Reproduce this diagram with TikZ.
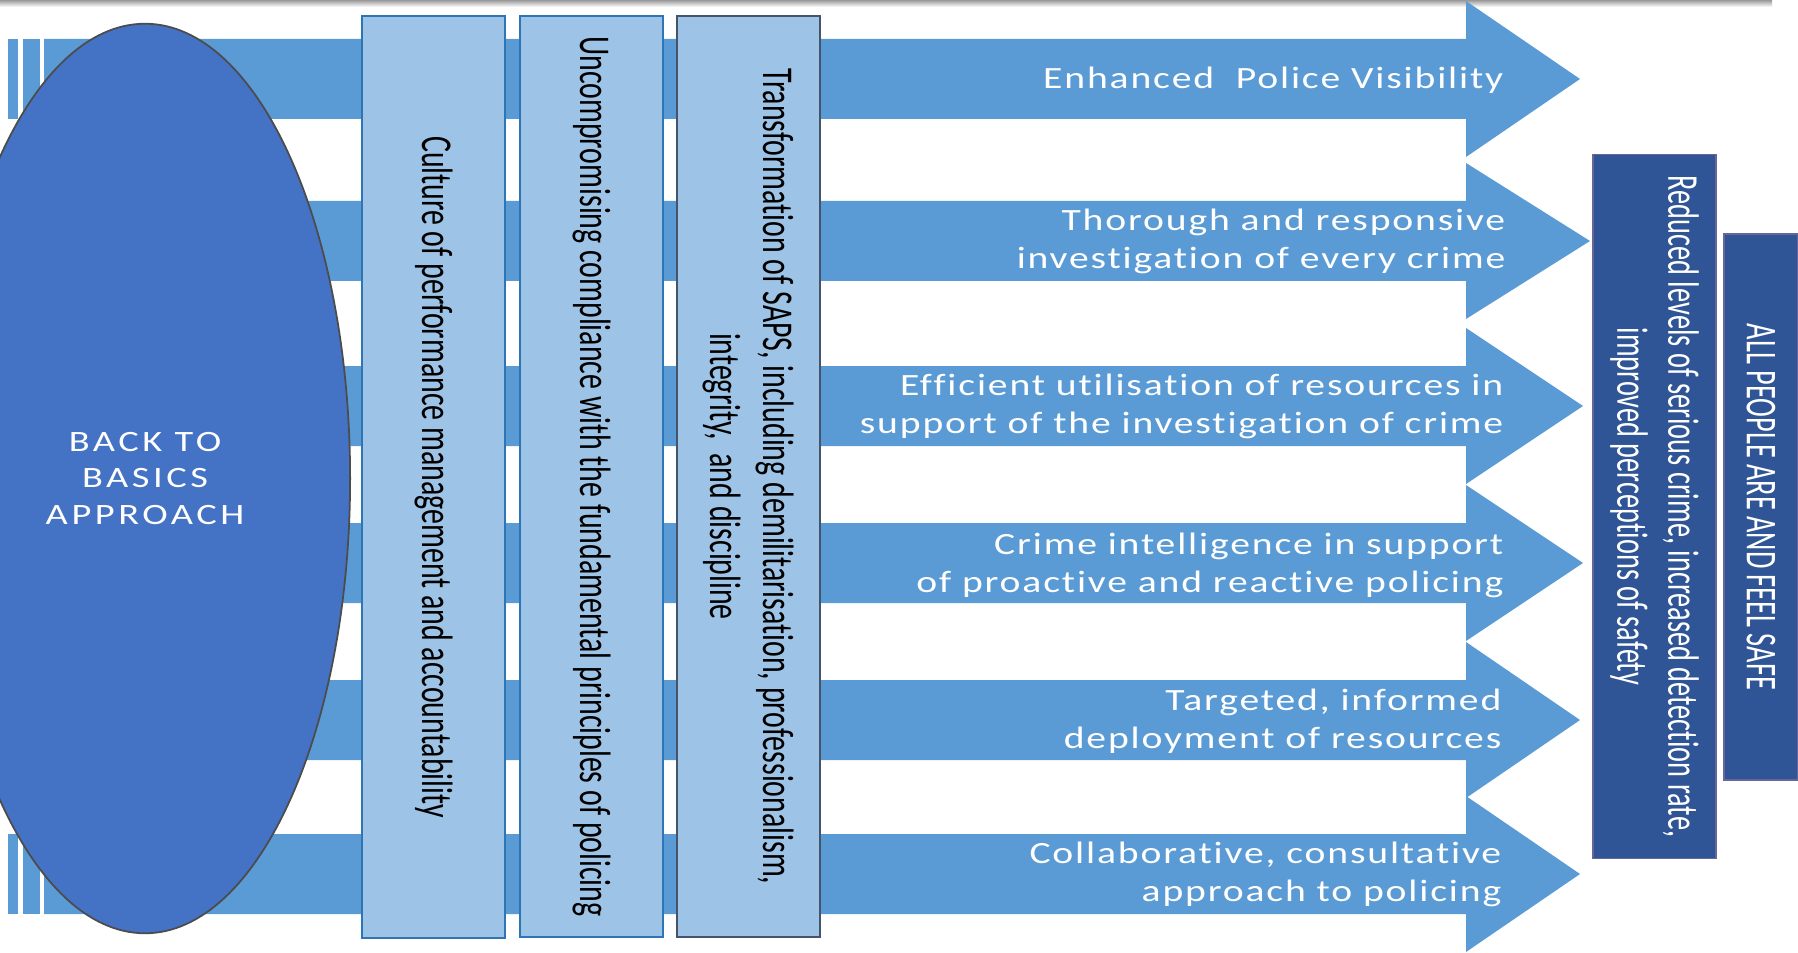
\documentclass[tikz,border=0pt]{standalone}
\usepackage{fontspec}
\setmainfont{Carlito}
\newfontfamily\widefont[FakeStretch=1.28, LetterSpace=6, Ligatures=NoCommon]{Carlito}
\newfontfamily\ovalfont[FakeStretch=1.3, LetterSpace=12]{Carlito}
\newfontfamily\narrowfont[FakeStretch=0.68, Ligatures=NoCommon]{Carlito}
\newfontfamily\goalfont[FakeStretch=0.645, Ligatures=NoCommon]{Carlito}
\usetikzlibrary{positioning, shapes.geometric}
\definecolor{arrowBlue}{HTML}{5B9BD5}
\definecolor{ovalBlue}{HTML}{4472C4}
\definecolor{paleBlue}{HTML}{9DC3E6}
\definecolor{edgeBlue}{HTML}{2E75B6}
\definecolor{slateEdge}{HTML}{44546A}
\definecolor{deepBlue}{HTML}{2F5597}

\begin{document}
\begin{tikzpicture}[x=0.01cm, y=-0.01cm,
					vbox/.style={draw=edgeBlue, fill=paleBlue, rotate=-90, line width=0.5pt, minimum width=9.21cm, minimum height=1.43cm, inner sep=0pt, align=center, font=\narrowfont\fontsize{12.5pt}{15pt}\selectfont},
					goalbox/.style={draw=gray!80!blue, fill=deepBlue, text=white, rotate=-90, line width=0.4pt, inner sep=0pt, align=center, font=\goalfont\fontsize{12.5pt}{14.5pt}\selectfont},
					lbl/.style={anchor=east, text=white, inner sep=0pt, align=right, font=\widefont\fontsize{8.8pt}{10.8pt}\selectfont}]
					\useasboundingbox (0,0) rectangle (1798,952);
					% thin shadow along the top
					\fill[top color=gray!80, bottom color=white] (0,0) rectangle (1772,7);
					% the six arrows
					\foreach \yc/\tip in {79/1580, 241/1590, 406/1583, 563/1583, 720/1580, 874/1580} {
						\fill[arrowBlue] (8,\yc-40) rectangle (18,\yc+40);
						\fill[arrowBlue] (23,\yc-40) rectangle (40,\yc+40);
						\fill[arrowBlue] (44,\yc-40) -- (1466,\yc-40) -- (1466,\yc-78) -- (\tip,\yc) -- (1466,\yc+78) -- (1466,\yc+40) -- (44,\yc+40) -- cycle;
					}
					\node[ellipse, draw=black!70, fill=ovalBlue, line width=0.5pt, minimum width=4.1cm, minimum height=9.09cm, inner sep=0pt, text=white, align=center, font=\ovalfont\fontsize{8.4pt}{10.5pt}\selectfont] (approach) at (145,478.5) {BACK TO\\BASICS\\APPROACH};
					\node[vbox] (culture) at (433.5,477) {Culture of performance management and accountability};
					\node[vbox] (compliance) at (591.5,476.5) {Uncompromising compliance with the fundamental principles of policing};
					\node[vbox, draw=slateEdge] (transform) at (748.5,476.5) {Transformation of SAPS, including demilitarisation, professionalism,\\integrity,\ \ and discipline};
					\node[goalbox, minimum width=7.03cm, minimum height=1.23cm] (reduced) at (1654.5,506.5) {Reduced levels of serious crime, increased detection rate,\\improved perceptions of safety};
					\node[goalbox, minimum width=5.46cm, minimum height=0.74cm] (safe) at (1761,507) {ALL PEOPLE ARE AND FEEL SAFE};
					\node[lbl] (visible) at (1504,80) {Enhanced\ \ Police Visibility};
					\node[lbl] (investigate) at (1506,241) {Thorough and responsive\\investigation of every crime};
					\node[lbl] (resources) at (1504,406) {Efficient utilisation of resources in\\support of the investigation of crime};
					\node[lbl] (intel) at (1504,565) {Crime intelligence in support\\of proactive and reactive policing};
					\node[lbl] (deploy) at (1502,721) {Targeted, informed\\deployment of resources};
					\node[lbl] (collab) at (1502,874) {Collaborative, consultative\\approach to policing};
				\end{tikzpicture}
\end{document}
